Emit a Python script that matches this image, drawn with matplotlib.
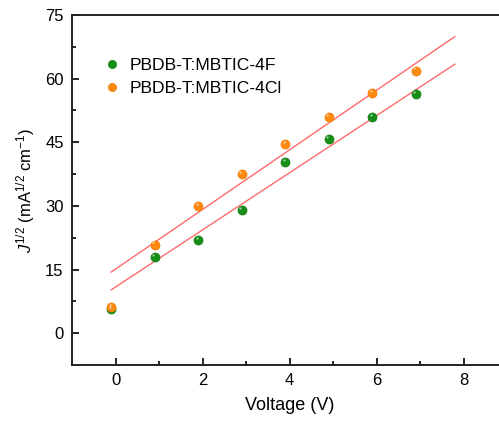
import matplotlib
matplotlib.use("Agg")
import matplotlib.pyplot as plt
import numpy as np

plt.rcParams['font.family'] = ['Liberation Sans', 'DejaVu Sans']
plt.rcParams['mathtext.fontset'] = 'custom'
plt.rcParams['mathtext.rm'] = 'Liberation Sans'
plt.rcParams['mathtext.it'] = 'Liberation Sans:italic'

voltage = [-0.1, 0.9, 1.9, 2.9, 3.9, 4.9, 5.9, 6.9]
j_4F = [5.6, 18.0, 22.0, 29.1, 40.4, 45.7, 51.0, 56.4]
j_4Cl = [6.1, 20.9, 30.0, 37.6, 44.5, 50.9, 56.7, 61.9]
fit_x = [-0.1, 7.8]
fit_4F = [10.2, 63.4]
fit_4Cl = [14.4, 69.9]
labels = ['PBDB-T:MBTIC-4F', 'PBDB-T:MBTIC-4Cl']
x_ticks = [0, 2, 4, 6, 8]
y_ticks = [0, 15, 30, 45, 60, 75]

W, H = 499, 425
fig = plt.figure(figsize=(W / 100, H / 100), dpi=100)
ax = fig.add_axes([72 / W, (H - 365) / H, 435 / W, 350 / H])

line_color = '#ff6b6b'
ax.plot(fit_x, fit_4F, color=line_color, lw=1.0, zorder=2)
ax.plot(fit_x, fit_4Cl, color=line_color, lw=1.0, zorder=2)

green = '#168f16'
orange = '#ff8a10'
ms = 6.5
h1, = ax.plot(voltage, j_4F, 'o', color=green, ms=ms, mec='#0f7a0f', mew=0.5, zorder=3, label=labels[0])
h2, = ax.plot(voltage, j_4Cl, 'o', color=orange, ms=ms, mec='#f07800', mew=0.5, zorder=4, label=labels[1])
# highlights
ax.plot(np.array(voltage) - 0.03, np.array(j_4F) + 0.5, 'o', color='white', alpha=0.6, ms=1.6, mew=0, zorder=5)
ax.plot(np.array(voltage) - 0.03, np.array(j_4Cl) + 0.5, 'o', color='white', alpha=0.6, ms=1.6, mew=0, zorder=5)

ax.set_xlim(-1, 9)
ax.set_ylim(-7.5, 75)
ax.set_xticks(x_ticks)
ax.set_yticks(y_ticks)
ax.set_xticks([1, 3, 5, 7], minor=True)
ax.set_yticks([7.5, 22.5, 37.5, 52.5, 67.5], minor=True)
ax.tick_params(which='both', direction='in', top=False, right=False, labelsize=12, width=1.2, pad=6)
ax.tick_params(which='major', length=5)
ax.tick_params(which='minor', length=3)
for s in ['left', 'bottom', 'top']:
    ax.spines[s].set_linewidth(1.4)
    ax.spines[s].set_color('#222222')
ax.spines['right'].set_visible(False)

ax.set_xlabel('Voltage (V)', fontsize=13, labelpad=6)
ax.set_ylabel(r'$J^{1/2}$ (mA$^{1/2}$ cm$^{-1}$)', fontsize=12, labelpad=6)

ax.legend(handles=[h1, h2], loc='upper left', bbox_to_anchor=(0.035, 0.922), frameon=False,
          fontsize=12.6, handletextpad=0.5, labelspacing=0.42, handlelength=1.0, markerscale=0.9)

fig.savefig('out.png', dpi=100)
